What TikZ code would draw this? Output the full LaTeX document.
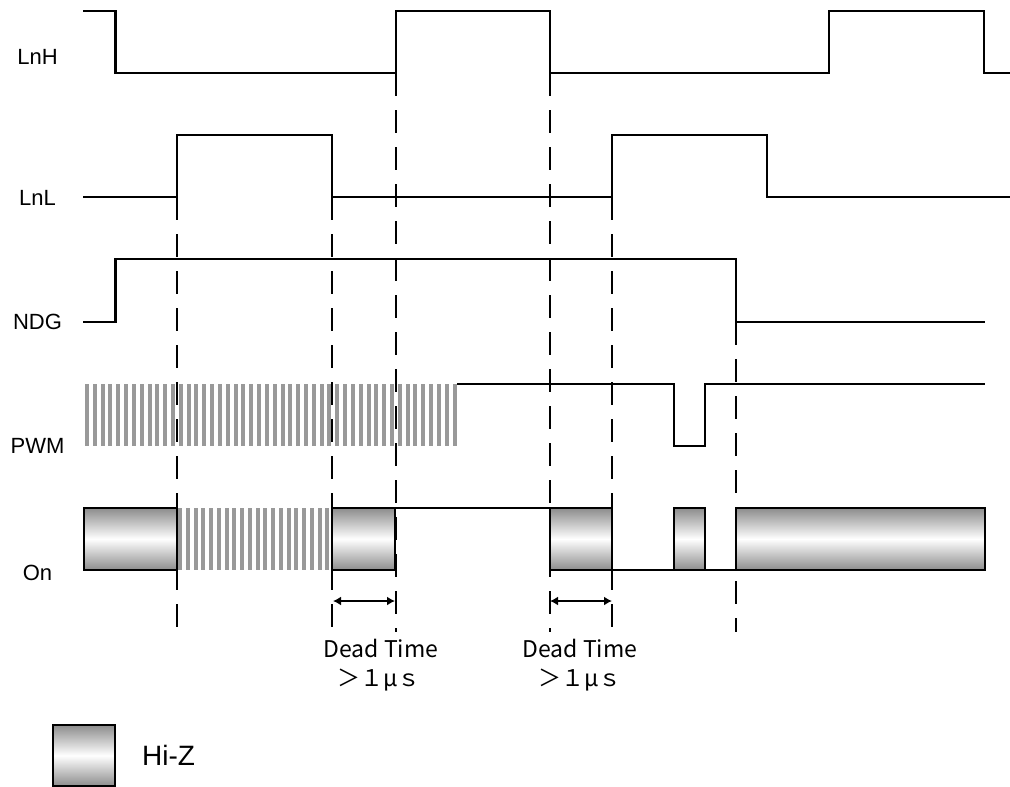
\documentclass[tikz,border=0pt]{standalone}
\usepackage{fontspec}
\setmainfont{Liberation Sans}
\newfontfamily\jp{Noto Sans CJK JP}
\usetikzlibrary{arrows.meta}
\tikzset{
  sig/.style={line width=2.5pt, line join=miter, line cap=butt},
  guide/.style={line width=1.3pt, dash pattern=on 23pt off 14pt},
  hiz/.style={draw=black, line width=1.6pt, top color=black!45, bottom color=black!45, middle color=white},
  stripe/.style={fill=black!40},
  lbl/.style={font=\fontsize{22}{24}\selectfont, inner sep=0pt},
  dtlbl/.style={font=\jp\fontsize{23}{25}\selectfont, inner sep=0pt},
  dim/.style={line width=1.6pt, {Latex[length=8pt,width=9pt]}-{Latex[length=8pt,width=9pt]}},
}
\begin{document}
\begin{tikzpicture}[x=1pt,y=-1pt]
\useasboundingbox (0,0) rectangle (1010,787);
% labels
\node[lbl] (lLnH) at (37.5,57) {LnH};
\node[lbl] (lLnL) at (37.5,198) {LnL};
\node[lbl] (lNDG) at (37.5,322) {NDG};
\node[lbl] (lPWM) at (37.5,446) {PWM};
\node[lbl] (lOn)  at (37.5,573) {On};
% stripes (PWM and On)
\foreach \i in {0,...,47} \fill[stripe] ({85+\i*7.82},384) rectangle ++(4,62);
\foreach \i in {0,...,19} \fill[stripe] ({178+\i*7.75},508) rectangle ++(4,62);
% guides
\draw[guide] (177,197) -- (177,632);
\draw[guide] (332,197) -- (332,632);
\draw[guide] (396,73) -- (396,632);
\draw[guide] (550,73) -- (550,632);
\draw[guide] (612,197) -- (612,632);
\draw[guide] (736,322) -- (736,632);
% LnH
\draw[sig] (83,11) -- (115.5,11) -- (115.5,73) -- (396,73) -- (396,11) -- (550,11) -- (550,73) -- (829,73) -- (829,11) -- (984,11) -- (984,73) -- (1010,73);
% LnL
\draw[sig] (83,197) -- (177,197) -- (177,135) -- (332,135) -- (332,197) -- (612,197) -- (612,135) -- (767,135) -- (767,197) -- (1010,197);
% NDG
\draw[sig] (83,322) -- (115.5,322) -- (115.5,259) -- (736,259) -- (736,322) -- (985,322);
% PWM
\draw[sig] (457,384) -- (674,384) -- (674,446) -- (705,446) -- (705,384) -- (985,384);
% On
\draw[sig] (395,508) -- (550,508);
\draw[sig] (612,570) -- (674,570);
\draw[sig] (705,570) -- (736,570);
\draw[hiz] (84,508) rectangle (177,570);
\draw[hiz] (332,508) rectangle (395,570);
\draw[hiz] (550,508) rectangle (612,570);
\draw[hiz] (674,508) rectangle (705,570);
\draw[hiz] (736,508) rectangle (985,570);
% dead time arrows
\coordinate (d1a) at (333,601);
\coordinate (d1b) at (395,601);
\coordinate (d2a) at (550,601);
\coordinate (d2b) at (612,601);
\draw[dim] (d1a) -- (d1b);
\draw[dim] (d2a) -- (d2b);
\node[dtlbl] (dt1) at (381,648) {Dead Time};
\node[dtlbl] (us1) at (379,680) {＞１μｓ};
\node[dtlbl] (dt2) at (580,648) {Dead Time};
\node[dtlbl] (us2) at (580,680) {＞１μｓ};
% legend
\draw[hiz] (53,725) rectangle (115,786);
\node[lbl, font=\fontsize{28}{30}\selectfont, anchor=west] (lhiz) at (142,755) {Hi-Z};
\end{tikzpicture}
\end{document}
